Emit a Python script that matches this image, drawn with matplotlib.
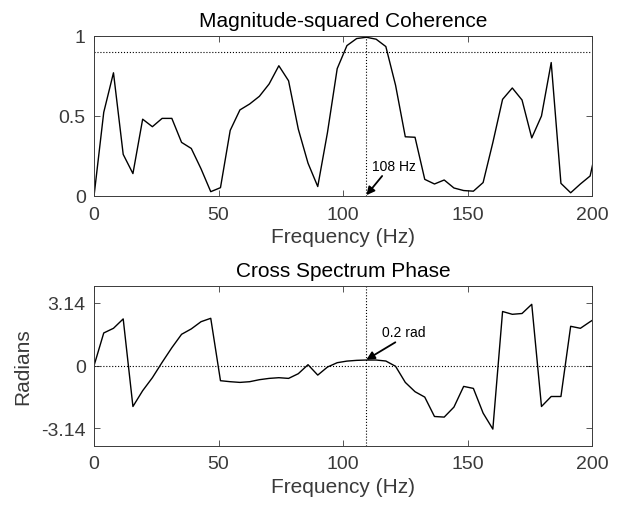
import numpy as np
import matplotlib.pyplot as plt

plt.rcParams['font.family'] = ['Liberation Sans', 'DejaVu Sans']

# frequency bins (fs = 1000 Hz, nfft = 256)
freq = np.arange(53) * 1000 / 256

coh = [0, 0.523, 0.77, 0.26, 0.14, 0.48, 0.433, 0.485, 0.485, 0.335,
       0.297, 0.17, 0.027, 0.052, 0.41, 0.538, 0.575, 0.623, 0.70, 0.814,
       0.72, 0.418, 0.205, 0.059, 0.397, 0.796, 0.94, 0.984, 0.992, 0.98,
       0.934, 0.692, 0.37, 0.367, 0.104, 0.075, 0.10, 0.05, 0.034, 0.03,
       0.084, 0.334, 0.604, 0.675, 0.60, 0.363, 0.50, 0.834, 0.079, 0.02,
       0.075, 0.125, 0.40]

phase = [0, 1.637, 1.87, 2.34, -2.04, -1.25, -0.60, 0.167, 0.90, 1.57,
         1.84, 2.20, 2.37, -0.75, -0.80, -0.835, -0.80, -0.70, -0.635, -0.60,
         -0.635, -0.40, 0.05, -0.47, -0.067, 0.15, 0.23, 0.267, 0.284, 0.284,
         0.234, -0.03, -0.835, -1.30, -1.57, -2.54, -2.57, -2.07, -1.035, -1.135,
         -2.37, -3.17, 2.71, 2.57, 2.61, 3.07, -2.04, -1.54, -1.54, 1.97,
         1.87, 2.20, 2.5]

f_peak = freq[28]
gray = '#3a3a3a'

fig = plt.figure(figsize=(6.21, 5.06), dpi=100)
ax1 = fig.add_axes([0.1514, 0.6107, 0.802, 0.3162])
ax2 = fig.add_axes([0.1514, 0.1172, 0.802, 0.3162])

for ax in (ax1, ax2):
    ax.tick_params(direction='in', top=True, right=True, labelsize=14,
                   colors=gray, length=4, width=0.6)
    ax.tick_params(axis='x', pad=7)
    ax.tick_params(axis='y', pad=6)
    for s in ax.spines.values():
        s.set_color(gray)
        s.set_linewidth(0.7)
    ax.set_xlim(0, 200)
    ax.set_xticks([0, 50, 100, 150, 200])
    ax.set_xlabel('Frequency (Hz)', fontsize=15, color=gray, labelpad=3)
    ax.axvline(f_peak, color='k', ls=':', lw=0.8)

# coherence
ax1.plot(freq, coh, color='k', lw=1)
ax1.axhline(0.9, color='k', ls=':', lw=0.8)
ax1.set_ylim(0, 1)
ax1.set_yticks([0, 0.5, 1])
ax1.set_yticklabels(['0', '0.5', '1'])
ax1.set_title('Magnitude-squared Coherence', fontsize=15, pad=7)
ax1.annotate('', xy=(f_peak, 0.005), xytext=(115.7, 0.125),
             arrowprops=dict(arrowstyle='-|>', color='k', lw=1.3,
                             mutation_scale=12, shrinkA=0, shrinkB=0))
ax1.text(111.5, 0.19, '108 Hz', fontsize=10, va='center', ha='left')

# phase
ax2.plot(freq, phase, color='k', lw=1)
ax2.axhline(0, color='k', ls=':', lw=0.8)
ax2.set_ylim(-4, 4)
ax2.set_yticks([-3.14, 0, 3.14])
ax2.set_yticklabels(['-3.14', '0', '3.14'])
ax2.set_ylabel('Radians', fontsize=15, color=gray, labelpad=6)
ax2.set_title('Cross Spectrum Phase', fontsize=15, pad=7)
ax2.annotate('', xy=(f_peak, 0.3), xytext=(121, 1.17),
             arrowprops=dict(arrowstyle='-|>', color='k', lw=1.3,
                             mutation_scale=12, shrinkA=0, shrinkB=0))
ax2.text(115.8, 1.70, '0.2 rad', fontsize=10, va='center', ha='left')

fig.savefig('out.png', dpi=100)
